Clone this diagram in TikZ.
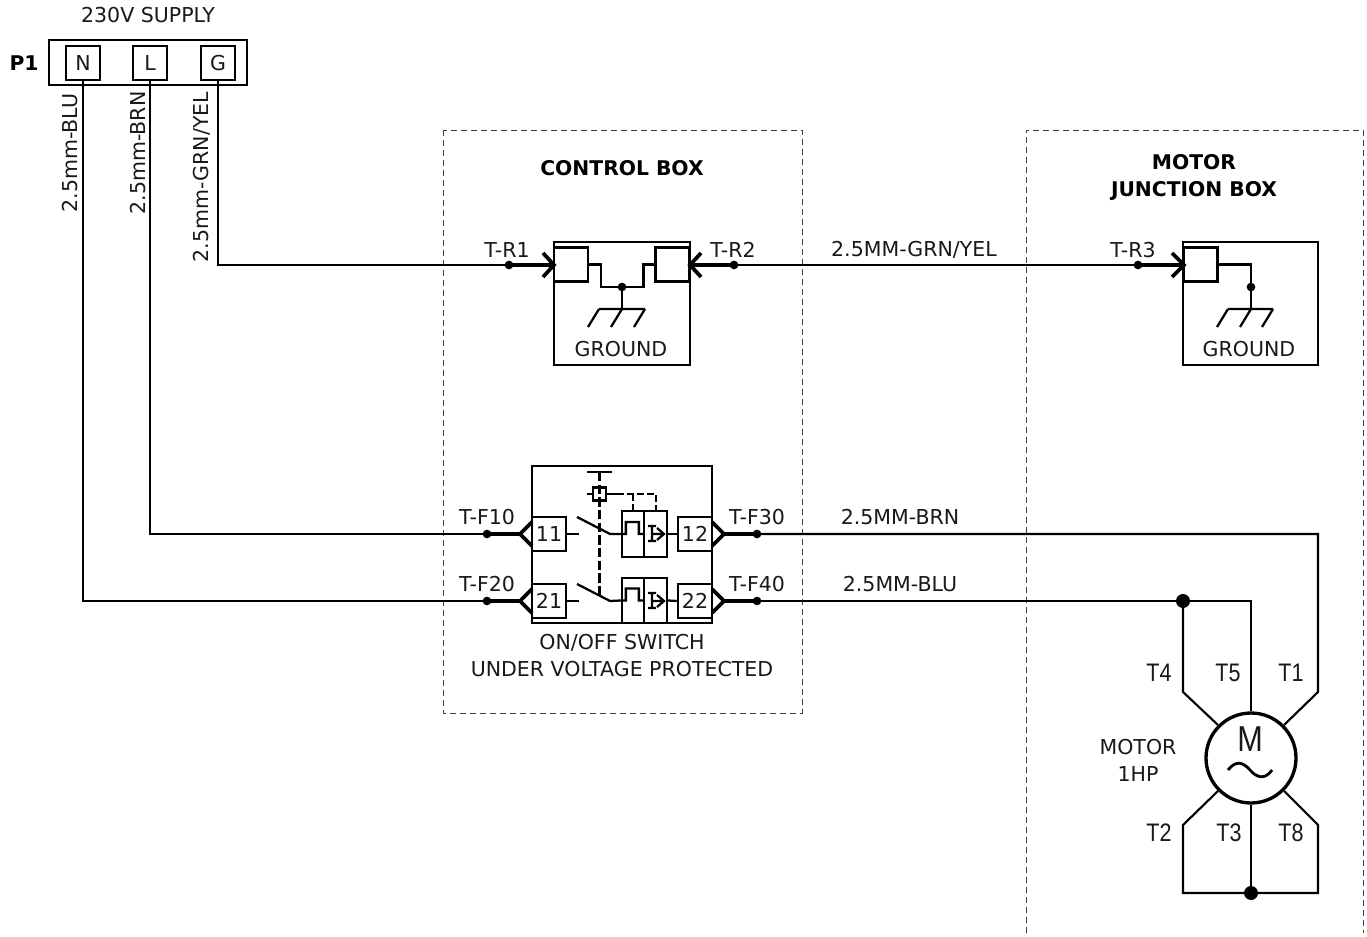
\documentclass[tikz,border=0pt]{standalone}
\usepackage{fontspec}
\setmainfont{DejaVu Sans}
\newfontfamily\narrowf[FakeStretch=0.85]{Liberation Sans}
\usetikzlibrary{calc}
\tikzset{
  txt/.style={inner sep=0pt,font=\fontsize{15.4pt}{17pt}\selectfont,text=black!90},
  boldtxt/.style={txt,font=\fontsize{15.2pt}{17pt}\selectfont\bfseries,text=black},
  nar/.style={inner sep=0pt,font=\fontsize{19pt}{21pt}\narrowf,text=black!90},
  wire/.style={line width=1.6pt,line join=miter},
  fat/.style={line width=2.8pt},
  sym/.style={line width=1.7pt},
  boxn/.style={draw,line width=1.7pt,inner sep=0pt,minimum width=25.5pt,minimum height=25.5pt},
  term/.style={boxn,txt,draw=black,line width=1.9pt},
  frame/.style={draw=black!75,line width=0.7pt,dash pattern=on 4.5pt off 3pt},
  dotn/.style={circle,fill=black,inner sep=0pt,minimum size=6.5pt},
  bigdot/.style={circle,fill=black,inner sep=0pt,minimum size=10.5pt},
}
\begin{document}
\begin{tikzpicture}[x=0.75pt,y=-0.75pt]
\useasboundingbox (0,0) rectangle (1367,937);
\fill[white] (0,0) rectangle (1367,937);

% dashed enclosures
\draw[frame] (443,130) rectangle (802,713);
\draw[frame] (1026,933) -- (1026,130) -- (1363,130) -- (1363,933);
\node[boldtxt] (ctl) at (622,168) {CONTROL BOX};
\node[boldtxt] (mjb1) at (1194,162) {MOTOR};
\node[boldtxt] (mjb2) at (1194,191) {JUNCTION BOX};

% supply
\node[txt] (sup) at (148,15) {230V SUPPLY};
\node[boldtxt] (p1) at (24,63) {P1};
\node[draw,line width=1.9pt,minimum width=148.5pt,minimum height=33.75pt,inner sep=0pt] (pbox) at (148,62.5) {};
\node[term] (tN) at (83,63) {N};
\node[term] (tL) at (150,63) {L};
\node[term] (tG) at (218,63) {G};
\node[txt,rotate=90] (lN) at (70,153) {2.5mm-BLU};
\node[txt,rotate=90] (lL) at (138,153) {2.5mm-BRN};
\node[txt,rotate=90] (lG) at (202,177) {2.5mm-GRN/YEL};

% ground box, control
\node[draw,line width=1.9pt,inner sep=0pt,minimum width=102pt,minimum height=92.25pt] (gb1) at (622,303.5) {};
\node[boxn] (g1a) at (571,264.5) {};
\node[boxn] (g1b) at (672.5,264.5) {};
\node[dotn] (g1j) at (622,287) {};
\coordinate (g1g) at (622,309);
\draw[sym] (g1a.east) -- ++(12,0) |- (g1j.center) -| ($(g1b.west)+(-11,0)$) -- (g1b.west);
\draw[sym] (g1j.center) -- (g1g);
\draw[sym] (599,309) -- (645,309) (599,309) -- ++(-11,18) (g1g) -- ++(-11,18) (645,309) -- ++(-11,18);
\node[txt] (gt1) at (621,349) {GROUND};

% ground box, motor
\node[draw,line width=1.9pt,inner sep=0pt,minimum width=101.25pt,minimum height=92.25pt] (gb2) at (1250.5,303.5) {};
\node[boxn] (g2a) at (1200.5,264.5) {};
\node[dotn] (g2j) at (1251,287) {};
\coordinate (g2g) at (1251,309);
\draw[sym] (g2a.east) -| (g2g);
\draw[sym] (1228,309) -- (1273,309) (1228,309) -- ++(-11,18) (g2g) -- ++(-11,18) (1273,309) -- ++(-11,18);
\node[txt] (gt2) at (1249,349) {GROUND};

% ground terminals
\node[dotn] (tr1) at (509,265) {};
\node[dotn] (tr2) at (734,265) {};
\node[dotn] (tr3) at (1138,265) {};
\node[txt] (tr1l) at (507,250) {T-R1};
\node[txt] (tr2l) at (733,250) {T-R2};
\node[txt] (tr3l) at (1133,250) {T-R3};
\node[txt] (grn) at (914,250) {2.5MM-GRN/YEL};
\draw[wire] (tG.south) |- (tr1.center);
\draw[wire] (tr2.center) -- (tr3.center);
\draw[fat] (tr1.center) -- (553,265);
\draw[fat] (tr2.center) -- (691,265);
\draw[fat] (tr3.center) -- (1183,265);
\draw[fat] (543,253) -- (554,265) -- (543,277);
\draw[fat] (701,253) -- (690,265) -- (701,277);
\draw[fat] (1172,253) -- (1184,265) -- (1172,277);

% switch
\node[draw,line width=2.1pt,inner sep=0pt,minimum width=135pt,minimum height=117.75pt] (sw) at (622,544.5) {};
\node[term] (t11) at (549,534) {11};
\node[term] (t21) at (549,601) {21};
\node[term] (t12) at (695,534) {12};
\node[term] (t22) at (695,601) {22};
\node[sym,draw,minimum width=16.5pt,minimum height=34.5pt,inner sep=0pt] (r1a) at (633,534) {};
\node[sym,draw,minimum width=17.25pt,minimum height=34.5pt,inner sep=0pt] (r1b) at (655.5,534) {};
\node[sym,draw,minimum width=16.5pt,minimum height=33.75pt,inner sep=0pt] (r2a) at (633,600.5) {};
\node[sym,draw,minimum width=17.25pt,minimum height=33.75pt,inner sep=0pt] (r2b) at (655.5,600.5) {};
% upper pole
\draw[sym] (t11.east) -- ++(12,0);
\draw[sym] (577,517) -- (610,534) -- (r1a.west) -- ++(5,0) -- ++(0,-12) -- ++(13,0) -- ++(0,12) -- (r1b.west);
\draw[sym] (648,526) -- (656,526) (648,541) -- (656,541) (652,526) -- (652,541) (652,534) -- (664,534) (657,528) -- (664,534) -- (657,540);
\draw[sym] (r1b.east) -- (t12.west);
% lower pole
\draw[sym] (t21.east) -- ++(12,0);
\draw[sym] (577,584) -- (610,601) -- (r2a.west) -- ++(5,0) -- ++(0,-12) -- ++(13,0) -- ++(0,12) -- (r2b.west);
\draw[sym] (648,593) -- (656,593) (648,608) -- (656,608) (652,593) -- (652,608) (652,601) -- (664,601) (657,595) -- (664,601) -- (657,607);
\draw[sym] (r2b.east) -- (t22.west);
% actuator
\node[draw,line width=1.9pt,minimum size=10pt,inner sep=0pt] (act) at (599.5,494) {};
\draw[sym] (587,472) -- (612,472);
\draw[line width=1.8pt,dash pattern=on 7pt off 2.5pt] (599.5,472) -- (599.5,595);
\draw[sym] (587,494) -- (act.west) (act.east) -- (617,494);
\draw[sym,dash pattern=on 5pt off 2.5pt] (act.east) -- (656,494) -- (656,511);
\draw[sym,dash pattern=on 5pt off 2.5pt] (633,494) -- (r1a.north);
\node[txt] (sw1) at (622,643) {ON/OFF SWITCH};
\node[txt] (sw2) at (622,669) {UNDER VOLTAGE PROTECTED};

% switch connections
\node[dotn] (tf10) at (487,534) {};
\node[dotn] (tf20) at (487,601) {};
\node[dotn] (tf30) at (757,534) {};
\node[dotn] (tf40) at (757,601) {};
\node[txt] (tf10l) at (487,517) {T-F10};
\node[txt] (tf20l) at (487,584) {T-F20};
\node[txt] (tf30l) at (757,517) {T-F30};
\node[txt] (tf40l) at (757,584) {T-F40};
\node[txt] (brn) at (900,517) {2.5MM-BRN};
\node[txt] (blu) at (900,584) {2.5MM-BLU};
\draw[wire] (tL.south) |- (tf10.center);
\draw[wire] (tN.south) |- (tf20.center);
\draw[fat] (tf10.center) -- (521,534);
\draw[fat] (tf20.center) -- (521,601);
\draw[fat] (tf30.center) -- (723,534);
\draw[fat] (tf40.center) -- (723,601);
\draw[fat,line join=miter] (532,522) -- (520,534) -- (532,546);
\draw[fat,line join=miter] (532,589) -- (520,601) -- (532,613);
\draw[fat,line join=miter] (712,522) -- (724,534) -- (712,546);
\draw[fat,line join=miter] (712,589) -- (724,601) -- (712,613);

% motor
\node[draw,circle,line width=2.5pt,minimum size=67.5pt,inner sep=0pt] (mot) at (1251,758) {};
\node[nar,font=\fontsize{27pt}{29pt}\narrowf] (mm) at (1250,739) {M};
\draw[line width=2.1pt] (1228,770) .. controls (1236,760) and (1243,762) .. (1250,770) .. controls (1257,778) and (1265,780) .. (1272,770);
\node[bigdot] (jt) at (1183,601) {};
\node[bigdot] (jb) at (1251,893) {};
\node[txt] (m1) at (1138,747) {MOTOR};
\node[txt] (m2) at (1138,774) {1HP};
\draw[wire] (tf40.center) -- (jt.center) -- (1251,601) -- (mot.north);
\draw[wire] (tf30.center) -- (1318,534) -- (1318,692) -- (mot.45);
\draw[wire] (jt.center) -- (1183,692) -- (mot.135);
\draw[wire] (mot.225) -- (1183,825) -- (1183,893) -- (jb.center);
\draw[wire] (mot.315) -- (1318,825) -- (1318,893) -- (jb.center);
\draw[wire] (mot.south) -- (jb.center);
\node[nar] (T4) at (1159,673) {T4};
\node[nar] (T5) at (1228,673) {T5};
\node[nar] (T1) at (1291,673) {T1};
\node[nar] (T2) at (1159,833) {T2};
\node[nar] (T3) at (1229,833) {T3};
\node[nar] (T8) at (1291,833) {T8};
\end{tikzpicture}
\end{document}
